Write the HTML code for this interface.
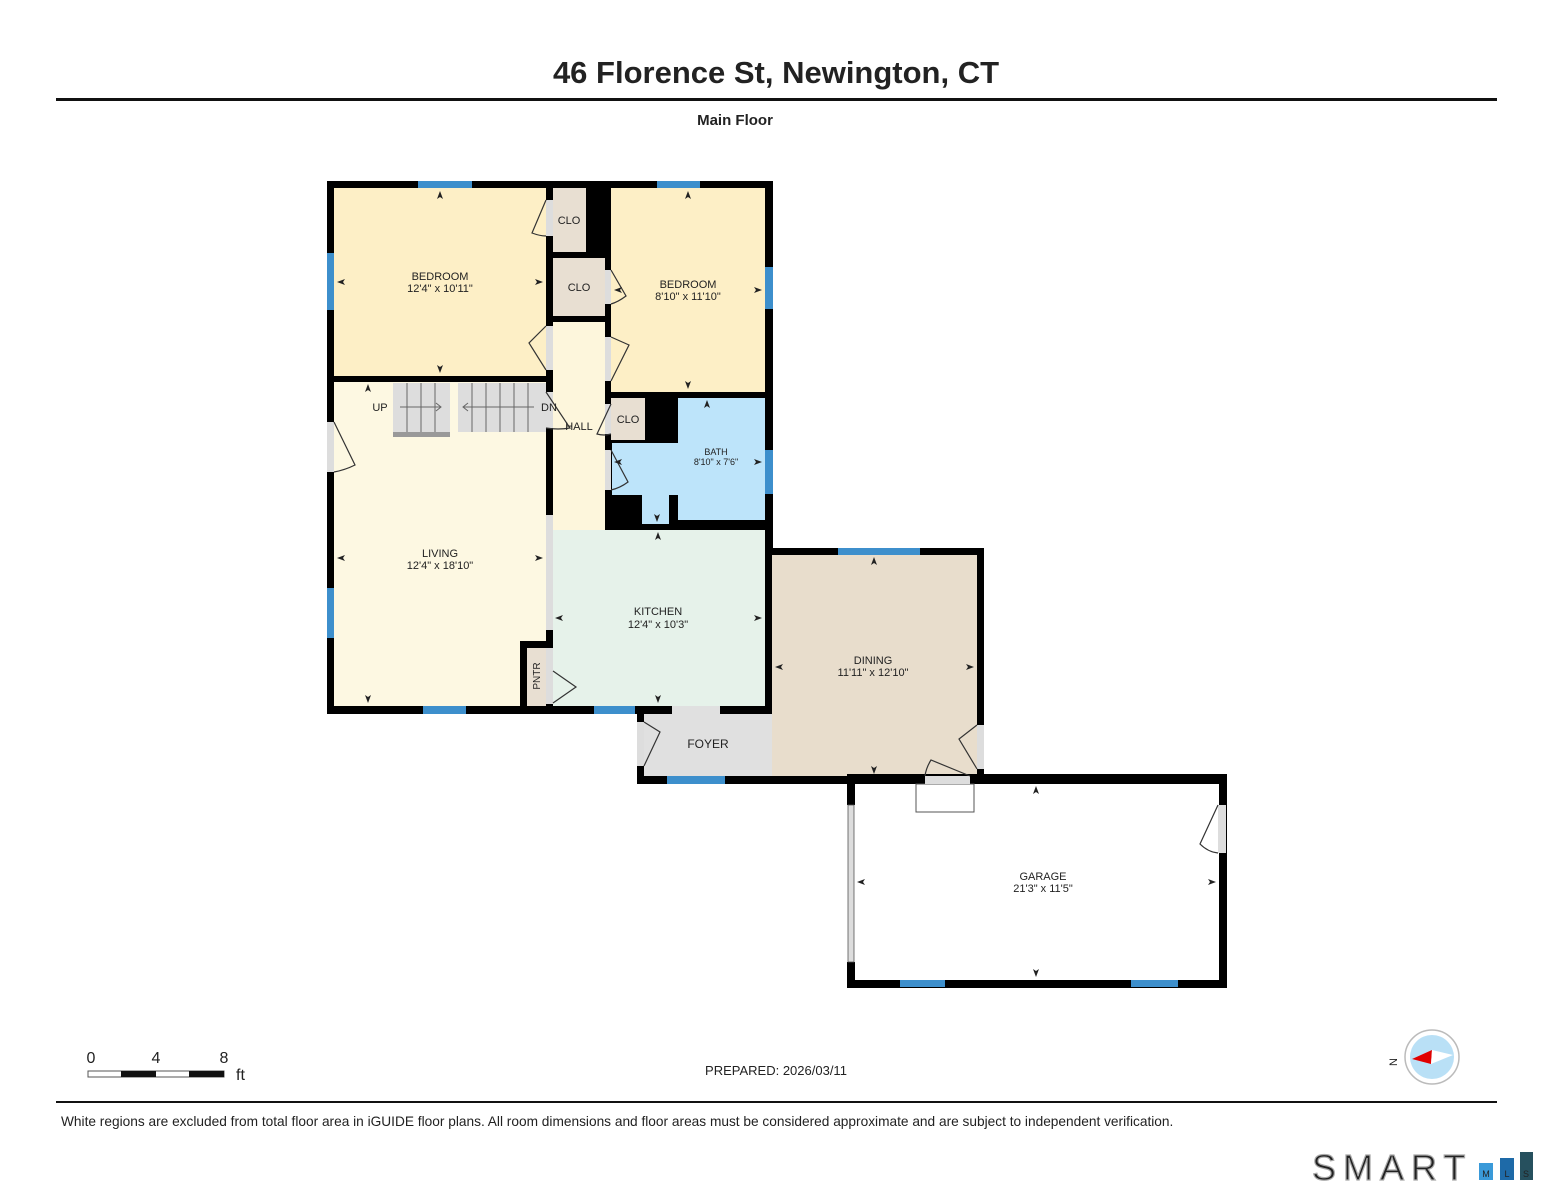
<!DOCTYPE html>
<html><head><meta charset="utf-8"><style>
html,body{margin:0;padding:0;background:#fff}
svg{display:block}
text{font-family:"Liberation Sans",Arial,sans-serif;fill:#222}
</style></head><body>
<svg width="1552" height="1200" viewBox="0 0 1552 1200" xmlns="http://www.w3.org/2000/svg">
<text x="776" y="83" text-anchor="middle" font-size="31" font-weight="bold" fill="#111">46 Florence St, Newington, CT</text>
<rect x="56" y="98" width="1441" height="3" fill="#111"/>
<text x="735" y="125" text-anchor="middle" font-size="15" font-weight="bold">Main Floor</text>

<!-- room fills -->
<rect x="327" y="181" width="446" height="533" fill="#000"/>
<rect x="334" y="188" width="212" height="188" fill="#fdefc6"/>
<rect x="611" y="188" width="154" height="204" fill="#fdefc6"/>
<rect x="553" y="188" width="33" height="64" fill="#e8dfd2"/>
<rect x="553" y="258" width="52" height="58" fill="#e8dfd2"/>
<rect x="553" y="322" width="52" height="208" fill="#fdf6dc"/>
<rect x="334" y="382" width="212" height="324" fill="#fdf8e2"/>
<rect x="527" y="648" width="19" height="58" fill="#e8dfd2"/>
<rect x="334" y="641" width="186" height="65" fill="#fdf8e2"/>
<rect x="520" y="641" width="7" height="65" fill="#000"/>
<rect x="520" y="641" width="33" height="7" fill="#000"/>
<rect x="546" y="515" width="7" height="115" fill="#ddd"/>
<rect x="611" y="398" width="34" height="42" fill="#e8dfd2"/>
<rect x="678" y="398" width="87" height="122" fill="#bde4fa"/>
<rect x="612" y="443" width="153" height="52" fill="#bde4fa"/>
<rect x="642" y="495" width="27" height="29" fill="#bde4fa"/>
<rect x="553" y="530" width="212" height="176" fill="#e6f2ea"/>
<!-- stairs -->
<rect x="393" y="383" width="57" height="49" fill="#ddd"/>
<rect x="393" y="432" width="57" height="5" fill="#999"/>
<rect x="458" y="383" width="88" height="49" fill="#ddd"/>
<g stroke="#666" stroke-width="1">
<line x1="407" y1="383" x2="407" y2="432"/><line x1="421" y1="383" x2="421" y2="432"/><line x1="435" y1="383" x2="435" y2="432"/>
<line x1="472" y1="383" x2="472" y2="432"/><line x1="486" y1="383" x2="486" y2="432"/><line x1="500" y1="383" x2="500" y2="432"/><line x1="514" y1="383" x2="514" y2="432"/><line x1="528" y1="383" x2="528" y2="432"/>
<line x1="400" y1="407" x2="441" y2="407"/><polyline points="436,403 441,407 436,411" fill="none"/>
<line x1="463" y1="407" x2="534" y2="407"/><polyline points="468,403 463,407 468,411" fill="none"/>
</g>
<!-- door gaps (grey) -->
<rect x="546" y="200" width="7" height="36" fill="#ddd"/>
<rect x="546" y="326" width="7" height="44" fill="#ddd"/>
<rect x="605" y="270" width="6" height="34" fill="#ddd"/>
<rect x="605" y="337" width="6" height="44" fill="#ddd"/>
<rect x="546" y="392" width="7" height="36" fill="#ddd"/>
<rect x="605" y="404" width="6" height="30" fill="#ddd"/>
<rect x="605" y="450" width="6" height="40" fill="#ddd"/>
<rect x="327" y="422" width="7" height="50" fill="#ddd"/>
<rect x="765" y="595" width="8" height="45" fill="#aaa"/>
<rect x="546" y="648" width="7" height="56" fill="#ddd"/>

<!-- foyer & dining -->
<rect x="637" y="706" width="136" height="78" fill="#000"/>
<rect x="644" y="714" width="128" height="62" fill="#e0e0e0"/>
<rect x="672" y="706" width="48" height="8" fill="#e0e0e0"/>
<rect x="637" y="722" width="7" height="44" fill="#ddd"/>
<rect x="765" y="548" width="219" height="236" fill="#000"/>
<rect x="772" y="555" width="205" height="221" fill="#e8ddcc"/>
<rect x="765" y="714" width="7" height="62" fill="#e0e0e0"/>
<rect x="977" y="725" width="7" height="44" fill="#ddd"/>
<rect x="925" y="776" width="45" height="8" fill="#ddd"/>
<rect x="916" y="784" width="58" height="28" fill="#fff" stroke="#555" stroke-width="1"/>

<!-- garage -->
<rect x="847" y="774" width="380" height="214" fill="#000"/>
<rect x="855" y="784" width="364" height="196" fill="#fff"/>
<rect x="916" y="784" width="58" height="28" fill="#fff" stroke="#555" stroke-width="1"/>
<rect x="925" y="776" width="45" height="8" fill="#ddd"/>
<rect x="847" y="805" width="8" height="157" fill="#fff"/>
<rect x="848" y="805" width="6" height="157" fill="#ddd" stroke="#555" stroke-width="0.8"/>
<rect x="1218" y="805" width="8" height="48" fill="#ddd"/>

<!-- windows -->
<g fill="#3d8fcc">
<rect x="418" y="181" width="54" height="7"/><rect x="657" y="181" width="43" height="7"/>
<rect x="327" y="253" width="7" height="57"/><rect x="765" y="267" width="8" height="42"/>
<rect x="765" y="450" width="8" height="44"/><rect x="327" y="588" width="7" height="50"/>
<rect x="423" y="706" width="43" height="8"/><rect x="594" y="706" width="41" height="8"/>
<rect x="838" y="548" width="82" height="7"/><rect x="667" y="776" width="58" height="8"/>
<rect x="900" y="980" width="45" height="7"/><rect x="1131" y="980" width="47" height="7"/>
</g>

<!-- doors swings -->
<g fill="none" stroke="#333" stroke-width="1.2">
<path d="M546 200 L532 233 Q540 236 546 236"/>
<path d="M546 326 L529 343 L546 370"/>
<path d="M611 270 L626 296 Q618 302 611 304"/>
<path d="M611 337 L629 345 L611 381"/>
<path d="M546 392 L570 428 Q558 430 546 428"/>
<path d="M611 404 L597 434 Q604 436 611 434"/>
<path d="M611 450 L628 482 Q620 488 611 490"/>
<path d="M334 422 L355 465 Q345 470 334 472"/>
<path d="M553 671 L576 687 L553 703"/>
<path d="M644 722 L660 732 L644 766"/>
<path d="M977 725 L959 739 L977 769"/>
<path d="M970 776 L931 760 Q926 768 925 776"/>
<path d="M1218 805 L1200 844 Q1208 852 1218 853"/>
</g>

<!-- labels -->
<g font-size="11" text-anchor="middle">
<text x="440" y="280">BEDROOM</text><text x="440" y="292">12'4" x 10'11"</text>
<text x="688" y="288">BEDROOM</text><text x="688" y="300">8'10" x 11'10"</text>
<text x="569" y="224">CLO</text><text x="579" y="291">CLO</text><text x="628" y="423">CLO</text>
<text x="380" y="411">UP</text><text x="549" y="411">DN</text><text x="579" y="430">HALL</text>
<text x="716" y="455" font-size="9">BATH</text><text x="716" y="465" font-size="9">8'10" x 7'6"</text>
<text x="440" y="557">LIVING</text><text x="440" y="569">12'4" x 18'10"</text>
<text x="658" y="615">KITCHEN</text><text x="658" y="628">12'4" x 10'3"</text>
<text x="873" y="664">DINING</text><text x="873" y="676">11'11" x 12'10"</text>
<text x="708" y="748" font-size="12">FOYER</text>
<text x="1043" y="880">GARAGE</text><text x="1043" y="892">21'3" x 11'5"</text>
<text x="540" y="676" transform="rotate(-90 540 676)" font-size="10">PNTR</text>
</g>
<!-- arrow markers -->
<g fill="#222">
<path d="M440 191 l-3 8 l3 -2 l3 2z"/><path d="M440 373 l-3 -8 l3 2 l3 -2z"/>
<path d="M337 282 l8 -3 l-2 3 l2 3z"/><path d="M543 282 l-8 -3 l2 3 l-2 3z"/>
<path d="M688 191 l-3 8 l3 -2 l3 2z"/><path d="M688 389 l-3 -8 l3 2 l3 -2z"/>
<path d="M614 290 l8 -3 l-2 3 l2 3z"/><path d="M762 290 l-8 -3 l2 3 l-2 3z"/>
<path d="M707 400 l-3 8 l3 -2 l3 2z"/><path d="M657 522 l-3 -8 l3 2 l3 -2z"/>
<path d="M614 462 l8 -3 l-2 3 l2 3z"/><path d="M762 462 l-8 -3 l2 3 l-2 3z"/>
<path d="M368 384 l-3 8 l3 -2 l3 2z"/><path d="M368 703 l-3 -8 l3 2 l3 -2z"/>
<path d="M337 558 l8 -3 l-2 3 l2 3z"/><path d="M543 558 l-8 -3 l2 3 l-2 3z"/>
<path d="M658 532 l-3 8 l3 -2 l3 2z"/><path d="M658 703 l-3 -8 l3 2 l3 -2z"/>
<path d="M555 618 l8 -3 l-2 3 l2 3z"/><path d="M762 618 l-8 -3 l2 3 l-2 3z"/>
<path d="M874 557 l-3 8 l3 -2 l3 2z"/><path d="M874 774 l-3 -8 l3 2 l3 -2z"/>
<path d="M775 667 l8 -3 l-2 3 l2 3z"/><path d="M974 667 l-8 -3 l2 3 l-2 3z"/>
<path d="M1036 786 l-3 8 l3 -2 l3 2z"/><path d="M1036 977 l-3 -8 l3 2 l3 -2z"/>
<path d="M857 882 l8 -3 l-2 3 l2 3z"/><path d="M1216 882 l-8 -3 l2 3 l-2 3z"/>
</g>

<!-- scale -->
<text x="91" y="1063" text-anchor="middle" font-size="16">0</text>
<text x="156" y="1063" text-anchor="middle" font-size="16">4</text>
<text x="224" y="1063" text-anchor="middle" font-size="16">8</text>
<text x="236" y="1080" font-size="16">ft</text>
<rect x="88" y="1071" width="136" height="6" fill="#fff" stroke="#555" stroke-width="1"/>
<rect x="121" y="1071" width="35" height="6" fill="#111"/>
<rect x="189" y="1071" width="35" height="6" fill="#111"/>
<text x="776" y="1075" text-anchor="middle" font-size="13">PREPARED: 2026/03/11</text>

<!-- compass -->
<circle cx="1432" cy="1057" r="27" fill="#fff" stroke="#bbb" stroke-width="1.5"/>
<circle cx="1432" cy="1057" r="22" fill="#b9e0f6"/>
<path d="M1412 1059 L1432 1050 L1431 1064z" fill="#e10000"/>
<path d="M1432 1050 L1453 1055 L1431 1064z" fill="#fff"/>
<text x="1397" y="1062" text-anchor="middle" font-size="11" transform="rotate(-90 1397 1062)">N</text>

<rect x="56" y="1101" width="1441" height="2" fill="#111"/>
<text x="61" y="1126" font-size="13.7">White regions are excluded from total floor area in iGUIDE floor plans. All room dimensions and floor areas must be considered approximate and are subject to independent verification.</text>

<!-- SMART MLS -->
<text x="1312" y="1180" font-size="36" fill="#fff" stroke="#aaa" stroke-width="1.2" letter-spacing="7">SMART</text>
<rect x="1479" y="1163" width="14" height="17" fill="#3a9ad9"/>
<rect x="1500" y="1158" width="14" height="22" fill="#1e6aa8"/>
<rect x="1520" y="1152" width="13" height="28" fill="#26505e"/>
<text x="1486" y="1177" font-size="9" fill="#fff" text-anchor="middle">M</text>
<text x="1507" y="1177" font-size="9" fill="#fff" text-anchor="middle">L</text>
<text x="1526" y="1177" font-size="9" fill="#fff" text-anchor="middle">S</text>
</svg>
</body></html>
